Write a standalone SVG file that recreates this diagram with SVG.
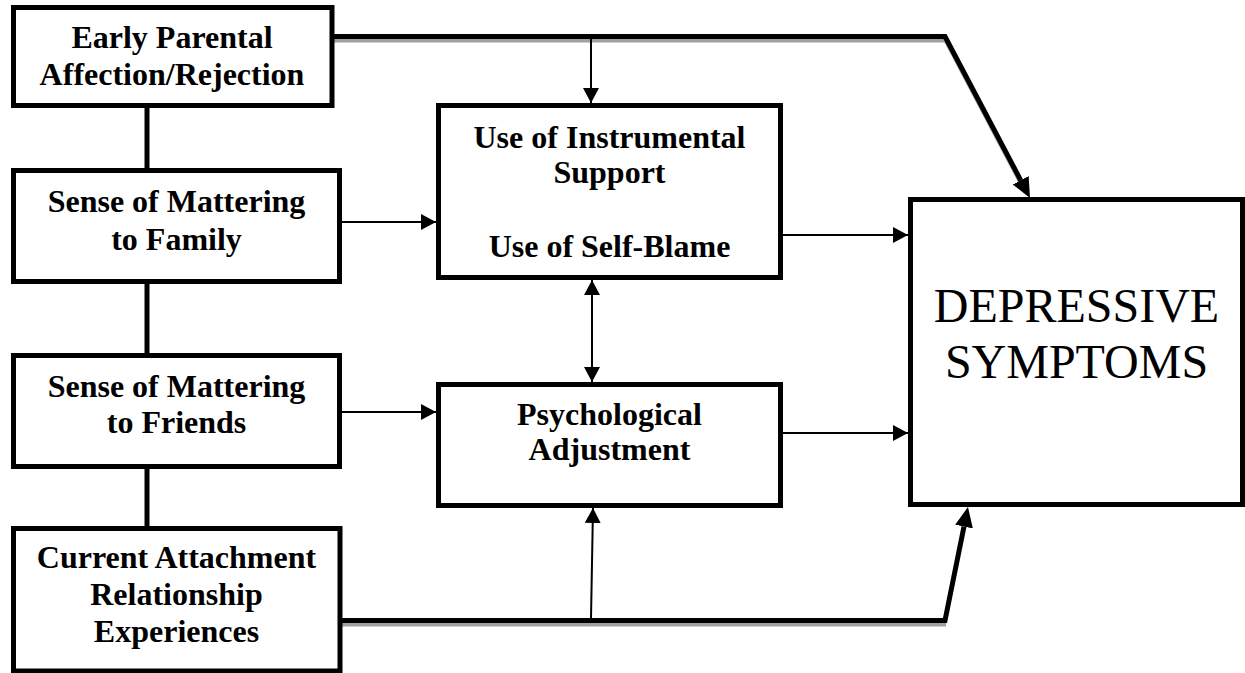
<svg xmlns="http://www.w3.org/2000/svg" width="1245" height="673" viewBox="0 0 1245 673">
<style>
.box{fill:#fff;stroke:#000;stroke-width:5}
.lbl{font-family:"Liberation Serif","Times New Roman",serif;font-weight:bold;font-size:32px;fill:#000;text-anchor:middle}
.big{font-family:"Liberation Serif","Times New Roman",serif;font-size:48px;fill:#000;text-anchor:middle}
.thin{fill:none;stroke:#000;stroke-width:2}
.thick{fill:none;stroke:#000;stroke-width:5}
.shadow{fill:none;stroke:#a0a0a0;stroke-width:5}
.link{fill:none;stroke:#000;stroke-width:5}
</style>
<defs>
<marker id="ah" markerUnits="userSpaceOnUse" markerWidth="15" markerHeight="16" refX="15" refY="8" orient="auto-start-reverse" viewBox="0 0 15 16">
<path d="M0,0 L15,8 L0,16 z" fill="#000"/>
</marker>
<marker id="bh" markerUnits="userSpaceOnUse" markerWidth="20" markerHeight="18" refX="0" refY="9" orient="auto" viewBox="0 0 20 18">
<path d="M0,0 L20,9 L0,18 z" fill="#000"/>
</marker>
</defs>

<g id="connectors">
<line class="link" x1="147" y1="106" x2="147" y2="170"/>
<line class="link" x1="147" y1="282" x2="147" y2="356"/>
<line class="link" x1="147" y1="467" x2="147" y2="529"/>
<polyline class="shadow" points="334,40 946,40 1021.5,183.5"/>
<polyline class="thick" points="334,36.5 945,36.5 1020.7,180.3" marker-end="url(#bh)"/>
<polyline class="shadow" points="342,624 946,624"/>
<polyline class="thick" points="342,620.5 945,620.5 964,526.6" marker-end="url(#bh)"/>
<line class="thin" x1="591" y1="39" x2="591" y2="103" marker-end="url(#ah)"/>
<line class="thin" x1="591" y1="618" x2="593" y2="508" marker-end="url(#ah)"/>
<line class="thin" x1="592" y1="280" x2="592" y2="382" marker-start="url(#ah)" marker-end="url(#ah)"/>
<line class="thin" x1="342" y1="222" x2="436" y2="222" marker-end="url(#ah)"/>
<line class="thin" x1="342" y1="412" x2="436" y2="412" marker-end="url(#ah)"/>
<line class="thin" x1="783" y1="235" x2="908" y2="235" marker-end="url(#ah)"/>
<line class="thin" x1="783" y1="433" x2="908" y2="433" marker-end="url(#ah)"/>
</g>

<g id="early-parental">
<rect class="box" x="13.5" y="7.5" width="318.5" height="98"/>
<text class="lbl" x="172" y="48">Early Parental</text>
<text class="lbl" x="172" y="85">Affection/Rejection</text>
</g>
<g id="mattering-family">
<rect class="box" x="13.5" y="170.5" width="326" height="111"/>
<text class="lbl" x="176.5" y="212">Sense of Mattering</text>
<text class="lbl" x="176.5" y="250">to Family</text>
</g>
<g id="mattering-friends">
<rect class="box" x="13.5" y="355.5" width="326" height="111"/>
<text class="lbl" x="176.5" y="397">Sense of Mattering</text>
<text class="lbl" x="176.5" y="433">to Friends</text>
</g>
<g id="current-attachment">
<rect class="box" x="13.5" y="528.5" width="326.5" height="142.5"/>
<text class="lbl" x="176.5" y="568">Current Attachment</text>
<text class="lbl" x="176.5" y="605">Relationship</text>
<text class="lbl" x="176.5" y="642">Experiences</text>
</g>
<g id="coping">
<rect class="box" x="438.5" y="105.5" width="342" height="172"/>
<text class="lbl" x="609.5" y="148">Use of Instrumental</text>
<text class="lbl" x="609.5" y="183">Support</text>
<text class="lbl" x="609.5" y="257">Use of Self-Blame</text>
</g>
<g id="psych-adjustment">
<rect class="box" x="438.5" y="384.5" width="342" height="121"/>
<text class="lbl" x="609.5" y="425">Psychological</text>
<text class="lbl" x="609.5" y="460">Adjustment</text>
</g>
<g id="depressive">
<rect class="box" x="910.5" y="199.5" width="332" height="305"/>
<text class="big" x="1076.5" y="322">DEPRESSIVE</text>
<text class="big" x="1076.5" y="378">SYMPTOMS</text>
</g>
</svg>
